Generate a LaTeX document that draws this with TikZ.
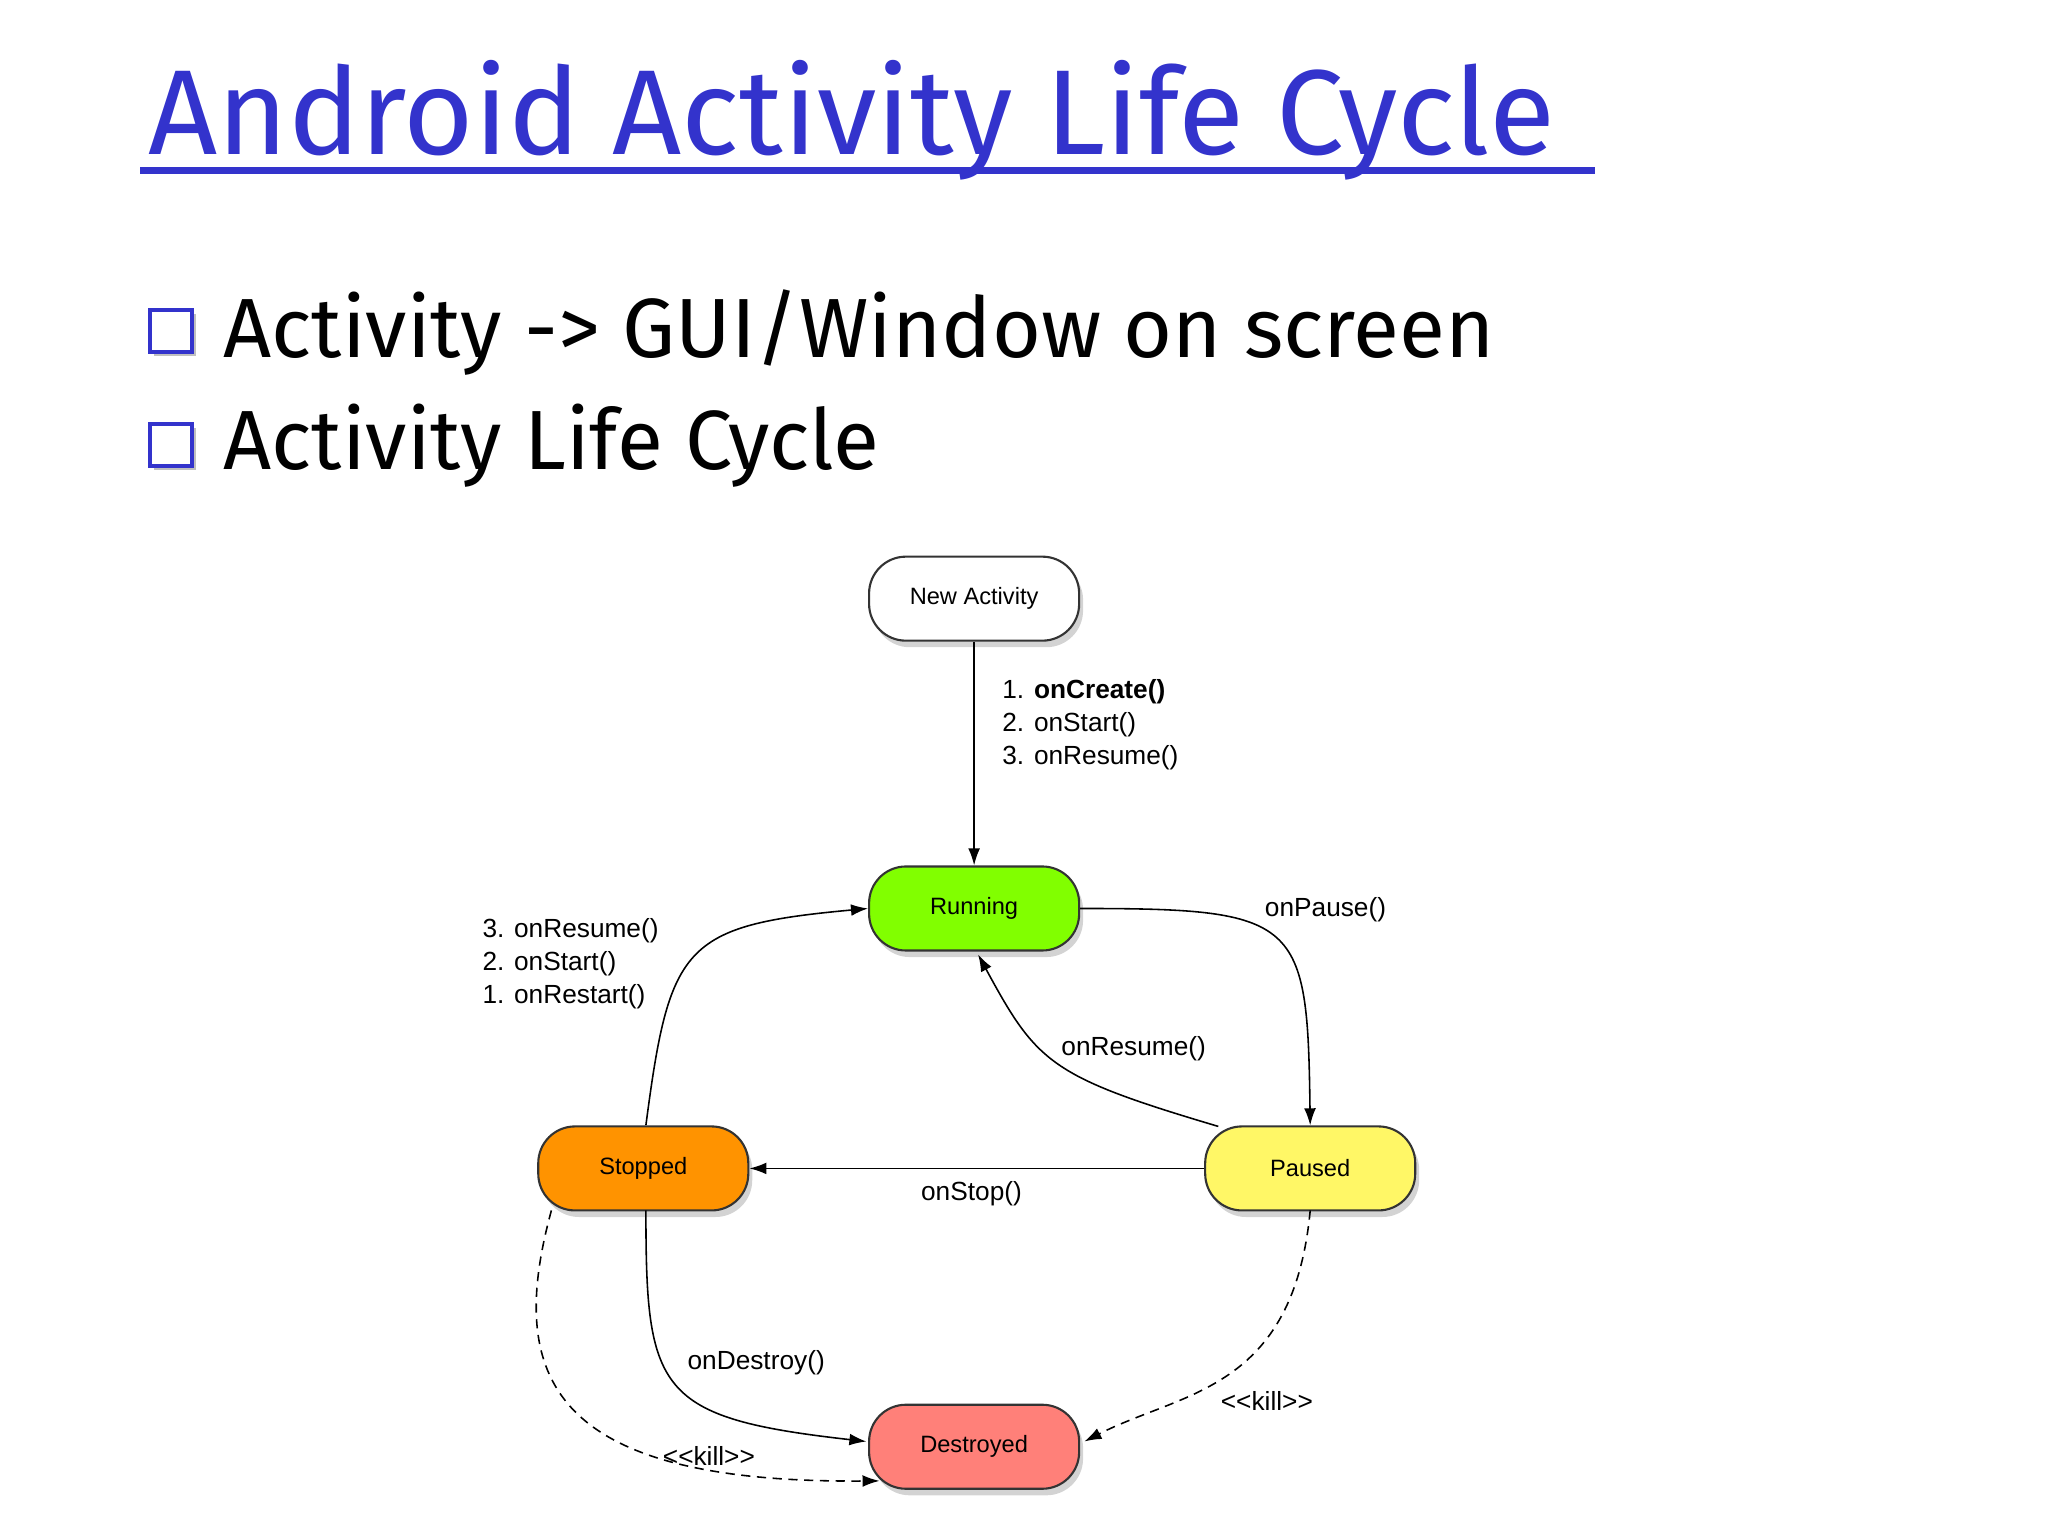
\documentclass[tikz,border=0pt]{standalone}
\usepackage{fontspec}
\setmainfont{Liberation Sans}
\newfontfamily\comic{Fira Sans}
\usetikzlibrary{shadows,arrows.meta}
\definecolor{tblue}{HTML}{3333CC}
\begin{document}
\begin{tikzpicture}[x=1pt,y=-1pt,
 st/.style={draw=black!80,line width=1.6pt,rounded corners=28pt,minimum width=160pt,minimum height=64pt,font=\fontsize{18}{20}\selectfont,drop shadow={shadow xshift=3pt,shadow yshift=-5pt,opacity=.35}},
 ar/.style={line width=1.2pt,-{Latex[length=13pt,width=9pt]}},
 dsh/.style={dash pattern=on 7pt off 5pt},
 lb/.style={font=\fontsize{20}{25}\selectfont,align=left},
 bul/.style={draw=tblue,fill=white,line width=3pt,minimum size=32pt,drop shadow={shadow xshift=3pt,shadow yshift=-3pt,opacity=.5}}]
\useasboundingbox (0,0) rectangle (1560,1170);
\node[anchor=base west,text=tblue,inner sep=0,font=\comic\fontsize{92}{100}\selectfont] (title) at (113,118) {Android Activity Life Cycle};
\draw[tblue,line width=5pt] (107,130) -- (1215,130);
\node[bul] (b1) at (130,252) {};
\node[bul] (b2) at (130,339) {};
\node[anchor=base west,inner sep=0,font=\comic\fontsize{64}{70}\selectfont] (t1) at (170,272) {Activity -> GUI/Window on screen};
\node[anchor=base west,inner sep=0,font=\comic\fontsize{64}{70}\selectfont] (t2) at (170,358) {Activity Life Cycle};
\node[st,fill=white] (new) at (742,456) {New Activity};
\node[st,fill=green!40!lime!90!yellow] (run) at (742,692) {Running};
\node[st,fill=orange!85!yellow] (stop) at (490,890) {Stopped};
\node[st,fill=yellow!60] (pause) at (998,890) {Paused};
\node[st,fill=red!50!white!95!orange] (dest) at (742,1102) {Destroyed};
\draw[ar] (new) -- (run);
\node[lb,anchor=north west] (l1) at (760,514) {1. \textbf{onCreate()}\\2. onStart()\\3. onResume()};
\draw[ar] (run.east) .. controls (990,692) and (996,700) .. (pause.north);
\node[lb,anchor=west] (l2) at (960,693) {onPause()};
\draw[ar] (928,858) .. controls (800,820) and (790,810) .. (745,727);
\node[lb,anchor=west] (l3) at (805,799) {onResume()};
\draw[ar] (pause.west) -- (stop.east);
\node[lb] (l4) at (740,909) {onStop()};
\draw[ar] (492,857) .. controls (510,720) and (520,705) .. (run.west);
\node[lb,anchor=north west] (l5) at (364,696) {3. onResume()\\2. onStart()\\1. onRestart()};
\draw[ar] (492,922) .. controls (492,1060) and (500,1080) .. (660,1098);
\node[lb] (l6) at (576,1038) {onDestroy()};
\draw[ar,dsh] (420,922) .. controls (385,1050) and (420,1130) .. (670,1128);
\node[lb] (l7) at (540,1109) {{<}{<}kill{>}{>}};
\draw[ar,dsh] (998,922) .. controls (985,1060) and (900,1060) .. (826,1098);
\node[lb] (l8) at (965,1067) {{<}{<}kill{>}{>}};
\end{tikzpicture}
\end{document}
